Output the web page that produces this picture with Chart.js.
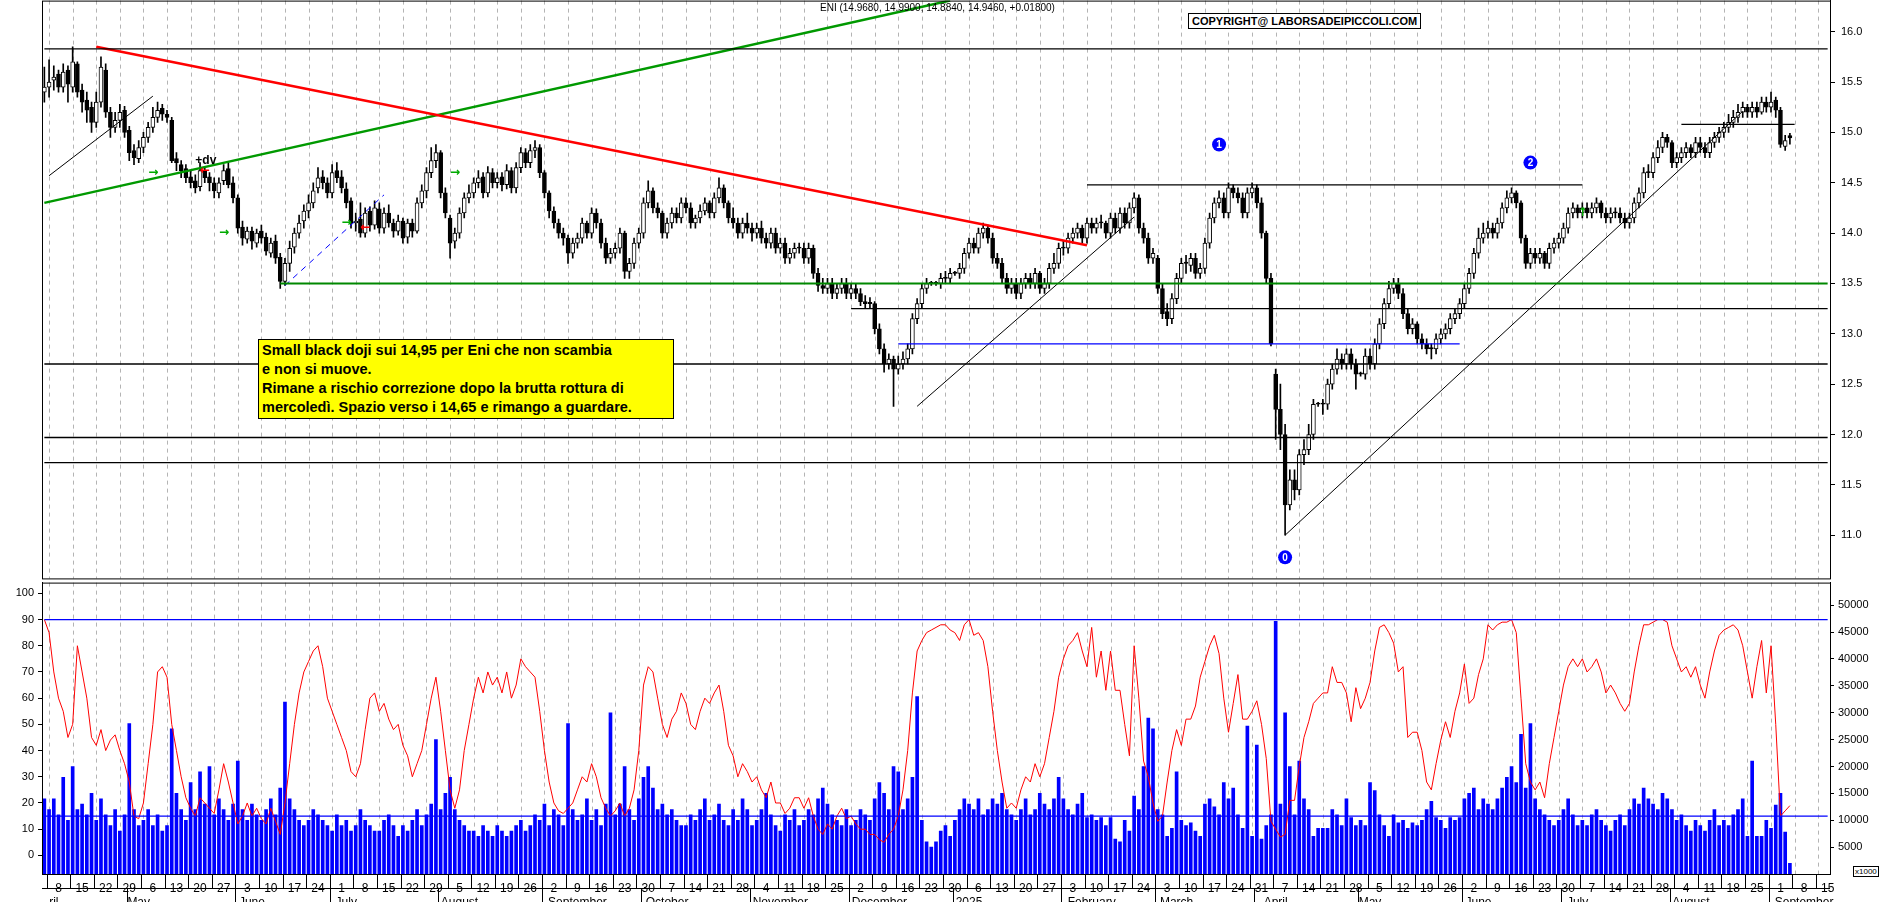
<!DOCTYPE html>
<html><head><meta charset="utf-8">
<script src="https://cdn.jsdelivr.net/npm/chart.js@4.4.1/dist/chart.umd.min.js"></script>
<style>
body{margin:0;background:#fff;width:1890px;height:902px;overflow:hidden;font-family:"Liberation Sans",Arial,sans-serif}
#c1w{position:absolute;left:0;top:-12px;width:1890px;height:603px}
#c2w{position:absolute;left:0;top:572px;width:1890px;height:336px}
.note{position:absolute;left:258px;top:339px;width:408px;background:#ffff00;border:1px solid #000;font-weight:bold;font-size:14.5px;line-height:19px;padding:1px 3px;color:#000}
.copy{position:absolute;left:1188px;top:13px;border:1px solid #000;background:#fff;font-weight:bold;font-size:11px;padding:1px 3px}
.title{position:absolute;left:820px;top:2px;font-size:10px}
.x1000{position:absolute;left:1853px;top:866px;font-size:8px;border:1px solid #000;padding:0 1px;background:#fff}
</style></head><body>
<div id="c1w"><canvas id="c1"></canvas></div>
<div id="c2w"><canvas id="c2"></canvas></div>
<div class="title">ENI (14.9680, 14.9900, 14.8840, 14.9460, +0.01800)</div>
<div class="copy">COPYRIGHT@ LABORSADEIPICCOLI.COM</div>
<div class="note">Small black doji sui 14,95 per Eni che non scambia<br>e non si muove.<br>Rimane a rischio correzione dopo la brutta rottura di<br>mercoledì. Spazio verso i 14,65 e rimango a guardare.</div>
<div class="x1000">x1000</div>
<script>
const startDate = '2024-04-05';
const totalDays = 379;
const monthNames = ['2025','February','March','April','May','June','July','August','September','October','November','December'];
const priceTicks = [11.0,11.5,12.0,12.5,13.0,13.5,14.0,14.5,15.0,15.5,16.0];
const oscTicks = [0,5,10,15,20,25,30,35,40,45,50,55,60,65,70,75,80,85,90,95,100];
const volTicks = [5000,10000,15000,20000,25000,30000,35000,40000,45000,50000];

const close = [15.45,
15.50,15.55,15.45,15.60,15.48, 15.70,15.40,15.30,15.22,15.10, 15.30,15.65,15.20,15.05,15.12, 15.20,15.00,14.80,14.75,14.85,
14.95,15.05,15.15,15.22,15.18, 15.15,14.72,14.70,14.62,14.55, 14.50,14.45,14.62,14.55,14.50, 14.42,14.50,14.62,14.48,14.35,
14.05,13.95,14.02,13.92,14.00, 13.95,13.82,13.90,13.75,13.52, 13.70,13.85,14.00,14.10,14.22, 14.30,14.42,14.55,14.50,14.40,
14.60,14.55,14.45,14.30,14.10, 14.12,14.00,14.20,14.08,14.25, 14.05,14.20,14.10,14.02,14.12, 13.95,14.10,14.02,14.30,14.42,
14.60,14.72,14.80,14.40,14.20, 13.90,14.00,14.20,14.35,14.40, 14.50,14.55,14.40,14.60,14.50, 14.55,14.48,14.62,14.45,14.65,
14.80,14.70,14.82,14.85,14.60, 14.40,14.22,14.10,14.00,13.95, 13.80,13.90,13.95,14.10,14.00, 14.20,14.10,13.90,13.75,13.80,
13.85,14.00,13.62,13.70,13.90, 14.00,14.30,14.42,14.25,14.20, 14.00,14.10,14.20,14.15,14.30, 14.25,14.10,14.15,14.22,14.30,
14.20,14.35,14.45,14.30,14.15, 14.10,14.00,14.10,14.05,14.00, 14.05,13.95,13.90,14.00,13.85, 13.90,13.75,13.80,13.85,13.85,
13.75,13.85,13.60,13.48,13.45, 13.50,13.40,13.45,13.50,13.40, 13.45,13.40,13.32,13.30,13.30, 13.05,12.85,12.70,12.75,12.65,
12.70,12.75,12.85,13.15,13.30, 13.45,13.50,13.50,13.50,13.55, 13.55,13.60,13.60,13.65,13.80, 13.90,13.85,14.00,14.05,13.95,
13.75,13.70,13.55,13.45,13.50, 13.40,13.50,13.55,13.50,13.60, 13.45,13.50,13.65,13.70,13.85, 13.85,13.95,14.00,14.05,13.95,
14.10,14.05,14.10,14.10,14.00, 14.15,14.05,14.20,14.10,14.25, 14.35,14.05,13.95,13.75,13.80, 13.45,13.20,13.15,13.35,13.55,
13.70,13.70,13.75,13.60,13.65, 13.90,14.15,14.30,14.35,14.20, 14.45,14.40,14.35,14.20,14.40, 14.45,14.30,14.00,13.55,12.90,
12.25,12.00,11.30,11.55,11.45, 11.80,11.85,12.00,12.30,12.30, 12.30,12.50,12.65,12.75,12.70, 12.80,12.70,12.60,12.60,12.78,
12.70,12.90,13.10,13.30,13.45, 13.50,13.40,13.20,13.05,13.10, 12.95,12.90,12.85,12.85,12.95, 13.00,13.05,13.15,13.20,13.30,
13.45,13.60,13.80,13.95,14.00, 14.05,14.00,14.10,14.25,14.35, 14.40,14.30,13.95,13.70,13.80, 13.75,13.80,13.70,13.85,13.90,
13.95,14.05,14.20,14.25,14.20, 14.25,14.20,14.25,14.30,14.20, 14.15,14.20,14.20,14.15,14.10, 14.15,14.30,14.40,14.60,14.60,
14.75,14.85,14.95,14.90,14.70, 14.75,14.80,14.85,14.80,14.90, 14.85,14.80,14.90,14.95,15.00, 15.05,15.10,15.15,15.20,15.25,
15.20,15.25,15.20,15.30,15.25, 15.30,15.22,14.88,14.92,14.946];
const open = [15.40,
15.45,15.52,15.58,15.45,15.62, 15.45,15.68,15.42,15.32,15.25, 15.10,15.30,15.62,15.20,15.05, 15.12,15.22,15.02,14.82,14.74,
14.85,14.95,15.05,15.15,15.24, 15.18,15.12,14.74,14.68,14.64, 14.56,14.52,14.46,14.62,14.56, 14.50,14.40,14.52,14.64,14.50,
14.35,14.06,13.94,14.02,13.90, 14.02,13.96,13.80,13.92,13.76, 13.52,13.70,13.86,14.00,14.12, 14.22,14.30,14.45,14.56,14.50,
14.40,14.62,14.56,14.44,14.32, 14.10,14.14,14.00,14.22,14.08, 14.24,14.05,14.20,14.10,14.02, 14.12,13.96,14.10,14.02,14.30,
14.42,14.60,14.72,14.80,14.40, 14.15,13.92,14.00,14.20,14.35, 14.40,14.50,14.56,14.40,14.60, 14.50,14.56,14.48,14.62,14.45,
14.65,14.80,14.70,14.82,14.85, 14.60,14.40,14.22,14.10,14.00, 13.95,13.80,13.90,13.95,14.10, 14.00,14.20,14.10,13.90,13.75,
13.80,13.85,14.00,13.62,13.70, 13.90,14.00,14.30,14.42,14.25, 14.20,14.00,14.10,14.20,14.15, 14.30,14.25,14.10,14.15,14.22,
14.30,14.20,14.35,14.45,14.30, 14.15,14.10,14.00,14.10,14.05, 14.00,14.05,13.95,13.90,14.00, 13.85,13.90,13.75,13.80,13.85,
13.85,13.75,13.85,13.60,13.48, 13.45,13.50,13.40,13.45,13.50, 13.40,13.45,13.40,13.32,13.30, 13.30,13.05,12.85,12.70,12.75,
12.65,12.70,12.75,12.85,13.15, 13.30,13.45,13.50,13.50,13.50, 13.55,13.55,13.60,13.60,13.65, 13.80,13.90,13.85,14.00,14.05,
13.95,13.75,13.70,13.55,13.45, 13.50,13.40,13.50,13.55,13.50, 13.60,13.45,13.50,13.65,13.70, 13.85,13.85,13.95,14.00,14.05,
13.95,14.10,14.05,14.10,14.10, 14.00,14.15,14.05,14.20,14.10, 14.25,14.35,14.05,13.95,13.75, 13.75,13.45,13.22,13.15,13.35,
13.55,13.70,13.68,13.75,13.60, 13.65,13.90,14.15,14.30,14.35, 14.20,14.45,14.40,14.35,14.20, 14.40,14.45,14.30,14.00,13.55,
12.60,12.25,12.00,11.30,11.55, 11.45,11.80,11.85,12.00,12.30, 12.30,12.30,12.50,12.65,12.75, 12.70,12.80,12.70,12.60,12.60,
12.78,12.70,12.90,13.10,13.30, 13.45,13.50,13.40,13.20,13.05, 13.10,12.95,12.90,12.85,12.85, 12.95,13.00,13.05,13.15,13.20,
13.30,13.45,13.60,13.80,13.95, 14.00,14.05,14.00,14.10,14.25, 14.35,14.40,14.30,13.95,13.70, 13.80,13.75,13.80,13.70,13.85,
13.90,13.95,14.05,14.20,14.25, 14.20,14.25,14.20,14.25,14.30, 14.20,14.15,14.20,14.20,14.15, 14.10,14.15,14.30,14.40,14.60,
14.60,14.75,14.85,14.95,14.90, 14.70,14.75,14.80,14.85,14.80, 14.90,14.85,14.80,14.90,14.95, 15.00,15.05,15.10,15.15,15.20,
15.25,15.20,15.25,15.20,15.30, 15.25,15.32,15.22,14.86,14.968];
const high = [15.65,
15.72,15.66,15.62,15.68,15.66, 15.85,15.70,15.48,15.40,15.30, 15.40,15.75,15.68,15.25,15.20, 15.28,15.26,15.06,14.88,14.92,
15.00,15.10,15.25,15.30,15.28, 15.22,15.15,14.80,14.72,14.68, 14.62,14.58,14.70,14.66,14.60, 14.55,14.55,14.68,14.70,14.56,
14.38,14.12,14.06,14.06,14.04, 14.08,14.00,13.95,13.98,13.80, 13.75,13.92,14.05,14.18,14.28, 14.38,14.50,14.65,14.62,14.55,
14.68,14.70,14.62,14.50,14.35, 14.20,14.30,14.25,14.26,14.32, 14.30,14.25,14.28,14.14,14.18, 14.15,14.14,14.14,14.35,14.48,
14.65,14.85,14.88,14.82,14.45, 14.18,14.05,14.25,14.40,14.48, 14.55,14.62,14.60,14.66,14.64, 14.60,14.60,14.68,14.65,14.70,
14.85,14.84,14.88,14.92,14.88, 14.62,14.42,14.26,14.14,14.05, 13.98,13.95,14.00,14.15,14.12, 14.25,14.24,14.14,13.95,13.85,
13.90,14.05,14.02,13.75,13.95, 14.05,14.35,14.52,14.45,14.30, 14.22,14.15,14.25,14.25,14.35, 14.35,14.30,14.18,14.28,14.35,
14.32,14.40,14.55,14.48,14.32, 14.25,14.15,14.15,14.20,14.10, 14.10,14.12,14.00,14.05,14.05, 13.95,13.95,13.85,13.90,13.90,
13.90,13.90,13.88,13.65,13.55, 13.55,13.55,13.50,13.55,13.55, 13.50,13.50,13.45,13.38,13.36, 13.32,13.10,12.90,12.80,12.78,
12.78,12.82,12.90,13.20,13.35, 13.50,13.55,13.52,13.52,13.60, 13.62,13.65,13.62,13.70,13.85, 13.95,13.95,14.05,14.10,14.08,
14.00,13.80,13.75,13.60,13.55, 13.55,13.55,13.60,13.60,13.65, 13.62,13.55,13.70,13.80,13.90, 13.92,14.00,14.05,14.10,14.08,
14.15,14.15,14.15,14.18,14.12, 14.20,14.20,14.25,14.25,14.30, 14.40,14.38,14.10,14.00,13.85, 13.78,13.50,13.30,13.40,13.60,
13.75,13.78,13.80,13.80,13.70, 13.95,14.20,14.35,14.42,14.40, 14.50,14.48,14.45,14.40,14.45, 14.50,14.48,14.35,14.02,13.60,
12.65,12.50,12.10,11.65,11.65, 11.85,11.95,12.10,12.35,12.32, 12.35,12.55,12.70,12.85,12.80, 12.85,12.85,12.75,12.62,12.85,
12.85,12.95,13.15,13.35,13.52, 13.55,13.55,13.45,13.25,13.15, 13.12,13.00,12.95,12.90,13.00, 13.05,13.10,13.20,13.25,13.35,
13.50,13.65,13.85,14.05,14.10, 14.12,14.10,14.15,14.30,14.42, 14.45,14.42,14.32,13.98,13.85, 13.85,13.85,13.82,13.90,13.95,
14.00,14.10,14.25,14.30,14.28, 14.30,14.30,14.30,14.35,14.32, 14.25,14.25,14.25,14.25,14.20, 14.20,14.35,14.45,14.65,14.68,
14.80,14.92,15.00,14.98,14.92, 14.80,14.85,14.90,14.88,14.95, 14.95,14.90,14.95,15.00,15.05, 15.10,15.18,15.22,15.28,15.30,
15.28,15.30,15.30,15.35,15.35, 15.40,15.35,15.25,14.97,14.99];
const low = [15.30,
15.35,15.42,15.40,15.40,15.30, 15.40,15.35,15.20,15.10,15.00, 15.05,15.25,15.15,14.95,15.00, 15.05,14.95,14.72,14.68,14.70,
14.80,14.90,15.00,15.10,15.12, 15.10,14.70,14.62,14.55,14.50, 14.45,14.40,14.42,14.50,14.42, 14.35,14.35,14.48,14.45,14.30,
14.00,13.88,13.90,13.84,13.86, 13.90,13.78,13.76,13.70,13.45, 13.48,13.62,13.80,13.95,14.05, 14.15,14.25,14.40,14.44,14.35,
14.35,14.50,14.40,14.25,14.05, 14.02,13.96,13.96,14.02,14.04, 14.00,14.00,14.06,13.96,13.98, 13.90,13.90,13.96,14.00,14.25,
14.35,14.55,14.65,14.35,14.15, 13.75,13.85,13.95,14.15,14.30, 14.35,14.45,14.35,14.36,14.45, 14.45,14.42,14.44,14.40,14.40,
14.60,14.65,14.65,14.75,14.55, 14.35,14.15,14.05,13.95,13.88, 13.70,13.75,13.85,13.90,13.95, 13.95,14.05,13.85,13.70,13.70,
13.75,13.80,13.55,13.55,13.65, 13.85,13.95,14.25,14.20,14.15, 13.95,13.95,14.05,14.10,14.10, 14.20,14.05,14.05,14.10,14.18,
14.15,14.15,14.30,14.25,14.10, 14.05,13.95,13.95,14.00,13.92, 13.95,13.90,13.85,13.85,13.80, 13.80,13.70,13.70,13.75,13.80,
13.70,13.70,13.55,13.42,13.40, 13.40,13.35,13.35,13.40,13.35, 13.35,13.35,13.28,13.25,13.25, 13.00,12.80,12.62,12.65,12.28,
12.60,12.65,12.70,12.80,13.10, 13.25,13.40,13.48,13.48,13.45, 13.50,13.50,13.58,13.55,13.60, 13.75,13.80,13.80,13.95,13.90,
13.70,13.65,13.50,13.40,13.40, 13.35,13.35,13.45,13.45,13.45, 13.40,13.40,13.45,13.60,13.65, 13.78,13.80,13.90,13.95,13.90,
13.90,14.00,14.00,14.05,13.95, 13.95,14.00,14.00,14.05,14.05, 14.20,14.00,13.90,13.70,13.70, 13.40,13.15,13.08,13.10,13.30,
13.50,13.60,13.62,13.55,13.55, 13.60,13.85,14.10,14.25,14.15, 14.15,14.35,14.30,14.15,14.15, 14.35,14.25,13.95,13.50,12.88,
11.95,11.85,11.00,11.25,11.35, 11.40,11.70,11.80,11.95,12.28, 12.20,12.25,12.45,12.60,12.65, 12.65,12.65,12.45,12.58,12.55,
12.65,12.65,12.85,13.05,13.25, 13.40,13.35,13.15,13.00,13.00, 12.90,12.85,12.80,12.75,12.80, 12.90,12.95,13.00,13.10,13.15,
13.25,13.40,13.55,13.75,13.90, 13.95,13.95,13.95,14.05,14.20, 14.30,14.25,13.90,13.65,13.65, 13.70,13.70,13.65,13.65,13.80,
13.85,13.90,14.00,14.15,14.15, 14.15,14.15,14.15,14.20,14.15, 14.10,14.10,14.15,14.10,14.05, 14.05,14.10,14.25,14.35,14.55,
14.55,14.70,14.80,14.85,14.65, 14.65,14.70,14.75,14.75,14.75, 14.80,14.75,14.75,14.85,14.90, 14.95,15.00,15.05,15.10,15.15,
15.15,15.15,15.15,15.18,15.20, 15.20,15.15,14.85,14.82,14.884];
const volume = [14000,
12000,14000,11000,18000,10000, 20000,12000,13000,11000,15000, 10000,14000,11000,9000,12000, 8000,11000,28000,12000,9000,
10000,12000,9000,11000,8000, 9000,27000,15000,12000,10000, 17000,12000,19000,13000,20000, 11000,14000,12000,10000,13000,
21000,12000,10000,13000,11000, 10000,12000,14000,11000,16000, 32000,14000,12000,10000,9000, 10000,12000,11000,10000,9000,
8000,11000,9000,10000,8000, 9000,12000,10000,9000,8000, 8000,10000,11000,9000,7000, 9000,8000,10000,12000,9000,
11000,13000,25000,12000,15000, 18000,12000,10000,9000,8000, 8000,7000,9000,8000,7000, 9000,8000,7000,8000,9000,
10000,8000,9000,11000,10000, 13000,9000,12000,11000,9000, 28000,12000,10000,11000,14000, 10000,12000,9000,13000,30000,
11000,13000,20000,12000,10000, 14000,18000,20000,16000,12000, 13000,11000,12000,10000,9000, 9000,11000,10000,12000,14000,
10000,11000,13000,10000,9000, 12000,10000,14000,12000,9000, 10000,12000,15000,11000,9000, 8000,11000,10000,12000,9000,
10000,12000,11000,14000,16000, 13000,11000,10000,9000,12000, 9000,10000,12000,11000,10000, 14000,17000,15000,12000,20000,
19000,12000,14000,18000,33000, 10000,6000,5000,6000,8000, 9000,7000,10000,12000,14000, 13000,12000,14000,11000,12000,
14000,13000,15000,12000,11000, 10000,12000,14000,11000,12000, 15000,13000,12000,14000,18000, 14000,12000,11000,13000,15000,
10500,11000,10000,10500,9000, 10500,6500,6000,10000,8000, 14500,12000,20000,29000,27000, 12000,11000,7000,8500,19000,
10000,9000,9500,8000,7000, 13000,14000,12500,11000,17000, 14000,16000,11000,8500,27500, 7000,24000,6500,9000,11000,
47000,13000,30000,20000,11000, 21000,14000,12000,7000,8500, 8500,8500,12000,11000,9000, 14000,10500,9000,10000,9000,
17000,15500,11000,9000,7000, 11000,9500,10000,8500,9500, 9000,10000,12000,13500,10500, 10000,8500,10500,10000,10500,
14000,15000,16000,12000,14000, 13000,12000,14000,16000,18000, 20000,17000,26000,16000,28000, 14000,12000,11000,10000,9000,
10000,12000,14000,11000,9000, 10000,9000,11000,12000,10000, 9000,8000,10000,11000,9000, 12000,14000,13000,16000,14000,
13000,12000,15000,14000,12000, 10000,11000,9000,8000,10000, 9000,8000,10000,12000,9000, 10000,9000,11000,12000,14000,
7000,21000,7000,7000,10000, 8500,12800,15000,7800,2000];
const oscillator = [90,
85,70,60,55,45, 50,80,70,60,45, 42,48,40,44,46, 40,35,28,15,14,
20,35,50,70,72, 68,50,40,30,22, 18,15,22,20,18, 16,25,35,28,20,
12,15,20,15,18, 14,12,18,13,8, 20,35,50,62,70, 74,78,80,72,60,
55,50,45,40,32, 30,35,48,60,62, 55,58,52,48,50, 42,38,30,35,40,
50,60,68,55,40, 25,18,25,40,50, 60,68,62,70,65, 68,62,70,60,65,
75,72,70,68,55, 40,28,20,17,16, 18,20,25,30,28, 35,30,22,18,15,
17,20,15,18,25, 40,65,72,70,60, 50,45,52,55,62, 58,50,48,55,60,
58,62,65,55,42, 38,30,35,32,28, 30,25,22,28,20, 20,16,18,22,22,
18,22,15,10,8, 12,10,15,18,14, 15,12,10,10,8, 8,6,5,8,10,
15,25,40,62,78, 82,85,86,87,88, 88,86,85,82,88, 90,84,85,82,72,
55,40,28,18,20, 18,25,30,28,35, 30,35,45,55,68, 75,80,82,85,78,
72,87,68,78,63, 78,63,63,50,38, 80,60,36,30,20, 13,15,28,40,48,
42,52,52,57,68, 74,80,84,77,60, 47,58,69,52,52, 55,59,50,37,13,
10,7,8,21,21, 34,45,51,58,60, 62,62,72,66,66, 62,51,64,56,60,
66,78,87,88,85, 81,70,72,45,47, 47,40,28,25,35, 44,51,45,55,62,
73,58,60,69,75, 88,86,88,89,89, 90,85,60,35,28, 25,28,22,35,45,
55,65,72,75,72, 75,70,72,75,70, 62,65,62,58,55, 58,70,80,88,88,
89,90,90,89,80, 75,70,72,68,72, 65,60,70,78,84, 86,87,88,86,80,
70,60,72,82,62, 80,50,15,17,19];

// level lines: [startIndex, endIndex, value]
const blackLevels = [[0,378,15.83],[0,378,12.70],[0,378,11.97],[0,378,11.72],[171,378,13.25],[221,326,14.48],[347,371,15.08]];
const greenLevel = [50,378,13.50];
const blueLevel = [181,300,12.90];
const redTrend = [11,221,15.85,13.88];
const greenTrend = [0,192,14.30,16.31];
const thinTrends = [[1,23,14.57,15.36],[185,231,12.28,14.16],[263,360,11.00,15.21]];
const blueDashTrend = [51,72,13.48,14.38];
const markers = [[249,14.88,'1'],[315,14.70,'2'],[263,10.78,'0']];
const oscLevels = [90,15];

const dates=[];{let d=new Date(startDate+'T12:00:00Z');while(dates.length<totalDays){const w=d.getUTCDay();if(w!==0&&w!==6)dates.push(new Date(d.getTime()));d.setUTCDate(d.getUTCDate()+1);}}
const labels=dates.map(d=>d.toISOString().slice(0,10));
const N=labels.length;
const mondays=[];for(let i=0;i<N;i++){if(dates[i].getUTCDay()===1)mondays.push(i);}
const monthStarts=[];for(let i=1;i<N;i++){if(dates[i].getUTCMonth()!==dates[i-1].getUTCMonth())monthStarts.push(i);}
function seg(a,b,v1,v2){const arr=new Array(N).fill(null);arr[a]=v1;arr[b]=v2;return arr;}
function lineDs(data,color,w,dash){return {type:'line',data,borderColor:color,borderWidth:w,borderDash:dash||[],pointRadius:0,spanGaps:true,fill:false,order:0};}

const wicks=high.map((h,i)=>[low[i],h]);
const bodies=close.map((c,i)=>{const lo=Math.min(open[i],c),hi=Math.max(open[i],c);return [lo,Math.max(hi,lo+0.012)];});
const bodyColors=close.map((c,i)=>c>open[i]?'#ffffff':'#000000');

const mondayGrid={id:'mg',beforeDatasetsDraw(c){const x=c.ctx,a=c.chartArea,xs=c.scales.x;x.save();x.strokeStyle='#b4b4b4';x.lineWidth=1;x.setLineDash([4,4]);
 mondays.forEach(i=>{const px=Math.round(xs.getPixelForValue(i))+0.5;x.beginPath();x.moveTo(px,a.top);x.lineTo(px,a.bottom);x.stroke();});x.restore();}};
const frame={id:'frame',afterDraw(c){const a=c.chartArea,x=c.ctx;x.save();x.strokeStyle='#000';x.lineWidth=1;x.strokeRect(a.left+0.5,a.top+0.5,a.right-a.left,a.bottom-a.top);x.restore();}};
const axisBoxes={id:'ab',afterDraw(c){const a=c.chartArea,x=c.ctx,xs=c.scales.x,step=xs.getPixelForValue(1)-xs.getPixelForValue(0);x.save();x.strokeStyle='#000';x.lineWidth=1;
 const yb=a.bottom+14;x.beginPath();x.moveTo(a.left,yb+0.5);x.lineTo(a.right,yb+0.5);x.stroke();
 mondays.forEach(i=>{const px=Math.round(xs.getPixelForValue(i)-step/2)+0.5;x.beginPath();x.moveTo(px,a.bottom);x.lineTo(px,yb);x.stroke();});
 monthStarts.forEach(i=>{const px=Math.round(xs.getPixelForValue(i)-step/2)+0.5;x.beginPath();x.moveTo(px,yb);x.lineTo(px,yb+20);x.stroke();});
 x.restore();}};
const markerText={id:'mt',afterDatasetsDraw(c){const x=c.ctx,xs=c.scales.x,ys=c.scales.y;x.save();
 markers.forEach(m=>{const px=xs.getPixelForValue(m[0]),py=ys.getPixelForValue(m[1]);x.fillStyle='#0000ff';x.beginPath();x.arc(px,py,7,0,Math.PI*2);x.fill();x.fillStyle='#fff';x.font='bold 10px "Liberation Sans"';x.textAlign='center';x.textBaseline='middle';x.fillText(m[2],px,py+0.5);});
 x.fillStyle='#000';x.font='bold 12px "Liberation Sans"';x.textAlign='left';x.fillText('+dv',xs.getPixelForValue(32),ys.getPixelForValue(14.72));
 x.fillStyle='#0a0';x.font='bold 12px "DejaVu Sans"';
 [[22,14.6],[37,14.0],[63,14.1],[86,14.6]].forEach(p=>x.fillText('→',xs.getPixelForValue(p[0]),ys.getPixelForValue(p[1])));
 x.fillStyle='#f00';x.fillText('←',xs.getPixelForValue(67),ys.getPixelForValue(14.05));x.fillText('←',xs.getPixelForValue(33),ys.getPixelForValue(14.62));
 x.fillStyle='#0a0';x.fillText('↑',xs.getPixelForValue(325),ys.getPixelForValue(14.2));
 x.restore();}};

const font={family:'"Liberation Sans", Arial',size:11};
const ds1=[];
blackLevels.forEach(l=>ds1.push(lineDs(seg(l[0],l[1],l[2],l[2]),'#000',1.3)));
ds1.push(lineDs(seg(greenLevel[0],greenLevel[1],greenLevel[2],greenLevel[2]),'#008800',2));
ds1.push(lineDs(seg(blueLevel[0],blueLevel[1],blueLevel[2],blueLevel[2]),'#0000ff',1.3));
ds1.push(lineDs(seg(redTrend[0],redTrend[1],redTrend[2],redTrend[3]),'#ff0000',2.5));
ds1.push(lineDs(seg(greenTrend[0],greenTrend[1],greenTrend[2],greenTrend[3]),'#009900',2.5));
thinTrends.forEach(t=>ds1.push(lineDs(seg(t[0],t[1],t[2],t[3]),'#000',1)));
ds1.push(lineDs(seg(blueDashTrend[0],blueDashTrend[1],blueDashTrend[2],blueDashTrend[3]),'#0000ff',1,[6,5]));
ds1.push({type:'bar',data:wicks,backgroundColor:'#000',barThickness:1,grouped:false,order:2});
ds1.push({type:'bar',data:bodies,backgroundColor:bodyColors,borderColor:'#000',borderWidth:1,borderSkipped:false,barThickness:4,grouped:false,order:1});

new Chart(document.getElementById('c1'),{type:'bar',data:{labels,datasets:ds1},
 options:{responsive:true,maintainAspectRatio:false,animation:false,events:[],
 layout:{padding:{left:42,top:0,bottom:2,right:0}},
 plugins:{legend:{display:false},tooltip:{enabled:false}},
 scales:{x:{offset:true,ticks:{display:false},grid:{display:false},border:{display:false}},
 y:{position:'right',min:10.571,max:16.309,afterBuildTicks:s=>{s.ticks=priceTicks.map(v=>({value:v}));},afterFit:s=>{s.width=60;},
  ticks:{font,color:'#000',callback:v=>v.toFixed(1),padding:6},grid:{drawOnChartArea:false,tickLength:5,color:'#000'},border:{color:'#000'}}}},
 plugins:[mondayGrid,frame,markerText]});

const ds2=[];
oscLevels.forEach(v=>ds2.push(lineDs(seg(0,N-1,v,v),'#0000ff',1.3)));
ds2.push({type:'line',data:oscillator,borderColor:'#ff0000',borderWidth:1,pointRadius:0,yAxisID:'y',order:0});
ds2.push({type:'bar',data:volume,backgroundColor:'#0000ff',barThickness:3,yAxisID:'y1',order:1});

function dayLabel(i){return (i>=2&&mondays.includes(i-2))?String(dates[i-2].getUTCDate()):'';}
function monthLabel(i){for(const s of [0].concat(monthStarts)){const nm=s===0?'ril':monthNames[dates[s].getUTCMonth()];const k=Math.max(1,Math.round(nm.length*3.4/4.7));if(s+k===i)return nm;}return '';}
new Chart(document.getElementById('c2'),{type:'bar',data:{labels,datasets:ds2},
 options:{responsive:true,maintainAspectRatio:false,animation:false,events:[],
 layout:{padding:{top:0,bottom:0}},
 plugins:{legend:{display:false},tooltip:{enabled:false}},
 scales:{x:{offset:true,grid:{display:false},border:{display:false},
   ticks:{autoSkip:false,maxRotation:0,font:{family:'"Liberation Sans"',size:12,lineHeight:1.15},color:'#000',padding:0,
    callback:(v,i)=>[dayLabel(i),monthLabel(i)]},
   afterFit:s=>{s.height=34;}},
 y:{position:'left',min:-7.1,max:104.1,afterBuildTicks:s=>{s.ticks=oscTicks.map(v=>({value:v}));},afterFit:s=>{s.width=42;},
   ticks:{font,color:'#000',padding:4},grid:{drawOnChartArea:false,tickLength:4,color:'#000'},border:{color:'#000'}},
 y1:{position:'right',min:0,max:54200,afterBuildTicks:s=>{s.ticks=volTicks.map(v=>({value:v}));},afterFit:s=>{s.width=60;},
   ticks:{font,color:'#000',padding:4,callback:v=>String(v)},grid:{drawOnChartArea:false,tickLength:4,color:'#000'},border:{color:'#000'}}}},
 plugins:[mondayGrid,frame,axisBoxes]});
</script></body></html>
